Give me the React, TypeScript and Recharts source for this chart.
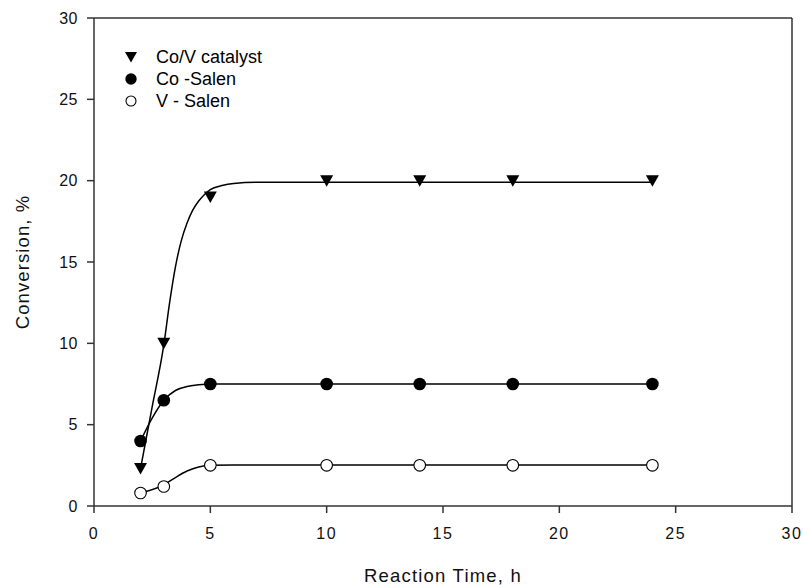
import React from "react";
import {
  ComposedChart,
  Line,
  Scatter,
  XAxis,
  YAxis,
  ReferenceLine,
} from "recharts";

// measured conversion (%) at each sampling time (h)
const hours = [2, 3, 5, 10, 14, 18, 24];
const coVConversion = [2.3, 10, 19, 20, 20, 20, 20];
const coSalenConversion = [4, 6.5, 7.5, 7.5, 7.5, 7.5, 7.5];
const vSalenConversion = [0.8, 1.2, 2.5, 2.5, 2.5, 2.5, 2.5];

// fitted curves, sampled along the time axis
const coVFitHours = [2, 2.5, 3, 3.25, 3.5, 3.75, 4, 4.25, 4.5, 4.75, 5, 5.5, 6, 7, 24];
const coVFitValues = [2.3, 6.1, 9.9, 12.5, 14.7, 16.3, 17.4, 18.2, 18.75, 19.15, 19.45, 19.7, 19.83, 19.9, 19.9];
const coSalenFitHours = [2, 2.5, 3, 3.5, 4, 4.5, 5, 6, 24];
const coSalenFitValues = [4.0, 5.4, 6.5, 7.1, 7.35, 7.45, 7.5, 7.5, 7.5];
const vSalenFitHours = [2, 3, 3.5, 4, 4.5, 5, 6, 24];
const vSalenFitValues = [0.8, 1.3, 1.75, 2.15, 2.4, 2.5, 2.52, 2.52];

const xTicks = [0, 5, 10, 15, 20, 25, 30];
const yTicks = [0, 5, 10, 15, 20, 25, 30];

const toPoints = (xs: number[], ys: number[]) => xs.map((x, i) => ({ x, y: ys[i] }));

const coVPoints = toPoints(hours, coVConversion);
const coSalenPoints = toPoints(hours, coSalenConversion);
const vSalenPoints = toPoints(hours, vSalenConversion);
const coVFit = toPoints(coVFitHours, coVFitValues);
const coSalenFit = toPoints(coSalenFitHours, coSalenFitValues);
const vSalenFit = toPoints(vSalenFitHours, vSalenFitValues);

const FONT = "'Liberation Sans', Arial, Helvetica, sans-serif";
const AXIS = "#333";

const DownTriangle = (props: any) => {
  const { cx, cy, w = 6.5 } = props;
  return (
    <polygon
      points={`${cx - w},${cy - w * 0.85} ${cx + w},${cy - w * 0.85} ${cx},${cy + w * 0.92}`}
      fill="#000"
    />
  );
};

const FilledDot = (props: any) => <circle cx={props.cx} cy={props.cy} r={6.3} fill="#000" />;

const OpenDot = (props: any) => (
  <circle cx={props.cx} cy={props.cy} r={5.8} fill="#fff" stroke="#000" strokeWidth={1.1} />
);

const legendItems = [
  { label: "Co/V catalyst", kind: "tri" },
  { label: "Co -Salen", kind: "filled" },
  { label: "V - Salen", kind: "open" },
];

const LegendBox = () => (
  <div
    style={{
      position: "absolute",
      left: 120,
      top: 46,
      fontFamily: FONT,
      fontSize: 18,
      color: "#000",
    }}
  >
    {legendItems.map((item) => (
      <div key={item.label} style={{ display: "flex", alignItems: "center", height: 22.2 }}>
        <svg width={22} height={22} style={{ marginRight: 14 }}>
          {item.kind === "tri" && <DownTriangle cx={11} cy={11} w={6} />}
          {item.kind === "filled" && <circle cx={11} cy={11} r={5.7} fill="#000" />}
          {item.kind === "open" && (
            <circle cx={11} cy={11} r={5} fill="#fff" stroke="#000" strokeWidth={1.1} />
          )}
        </svg>
        <span>{item.label}</span>
      </div>
    ))}
  </div>
);

export default function App(): JSX.Element {
  const xTickStyle = { fill: "#111", fontSize: 16, fontFamily: FONT, letterSpacing: 1.5 };
  const yTickStyle = { fill: "#111", fontSize: 16, fontFamily: FONT, letterSpacing: 0.5 };
  return (
    <div style={{ position: "absolute", left: 0, top: 0, width: 803, height: 585, background: "#fff" }}>
      <ComposedChart width={803} height={585} margin={{ top: 18, right: 11, bottom: 0, left: 0 }}>
        <XAxis
          dataKey="x"
          type="number"
          domain={[0, 30]}
          ticks={xTicks}
          height={79}
          tickSize={7}
          tickMargin={15}
          tick={xTickStyle}
          stroke={AXIS}
          strokeWidth={1.5}
          allowDataOverflow
          label={{
            value: "Reaction Time, h",
            position: "insideBottom",
            offset: 3,
            fontSize: 18.5,
            fontFamily: FONT,
            fill: "#111",
            letterSpacing: 1.2,
          }}
        />
        <YAxis
          dataKey="y"
          type="number"
          domain={[0, 30]}
          ticks={yTicks}
          width={94}
          tickSize={7}
          tickMargin={9}
          tick={yTickStyle}
          stroke={AXIS}
          strokeWidth={1.5}
          allowDataOverflow
          label={{
            value: "Conversion, %",
            angle: -90,
            position: "insideLeft",
            offset: 22,
            fontSize: 18.5,
            fontFamily: FONT,
            fill: "#111",
            letterSpacing: 1.1,
            style: { textAnchor: "middle" },
          }}
        />
        <ReferenceLine y={30} stroke={AXIS} strokeWidth={1.5} />
        <ReferenceLine x={30} stroke={AXIS} strokeWidth={1.5} />

        <Line data={coVFit} dataKey="y" type="monotone" stroke="#000" strokeWidth={1.5} dot={false} isAnimationActive={false} />
        <Line data={coSalenFit} dataKey="y" type="monotone" stroke="#000" strokeWidth={1.5} dot={false} isAnimationActive={false} />
        <Line data={vSalenFit} dataKey="y" type="monotone" stroke="#000" strokeWidth={1.5} dot={false} isAnimationActive={false} />

        <Scatter data={coVPoints} dataKey="y" shape={DownTriangle} isAnimationActive={false} />
        <Scatter data={coSalenPoints} dataKey="y" shape={FilledDot} isAnimationActive={false} />
        <Scatter data={vSalenPoints} dataKey="y" shape={OpenDot} isAnimationActive={false} />
      </ComposedChart>
      <LegendBox />
    </div>
  );
}
